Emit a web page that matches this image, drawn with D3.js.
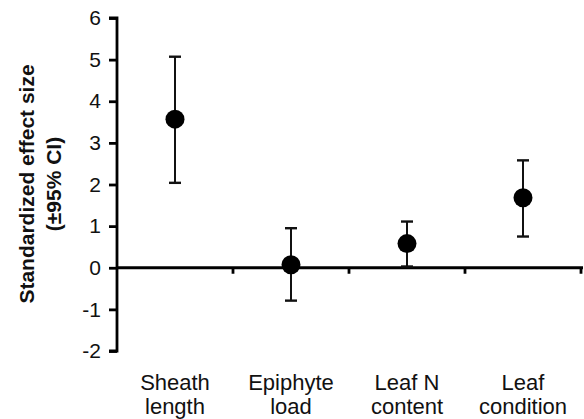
<!DOCTYPE html>
<html><head><meta charset="utf-8">
<script src="https://cdn.jsdelivr.net/npm/d3@7/dist/d3.min.js"></script>
<style>body{margin:0;background:#fff}svg{display:block;font-family:"Liberation Sans",Arial,sans-serif}</style>
</head><body><svg id="c" width="584" height="419"></svg>
<script>
const categories = [["Sheath","length"],["Epiphyte","load"],["Leaf N","content"],["Leaf","condition"]];
const means = [3.57, 0.07, 0.58, 1.68];
const upper = [5.07, 0.95, 1.11, 2.58];
const lower = [2.04, -0.79, 0.03, 0.75];
const yTicks = [-2,-1,0,1,2,3,4,5,6];

const svg = d3.select("#c");
const x = d3.scaleBand().domain(d3.range(categories.length)).range([117, 581]);
const y = d3.scaleLinear().domain([-2, 6]).range([351, 18]);

// y axis
const ya = svg.append("g").attr("transform","translate(117,0)")
  .call(d3.axisLeft(y).tickValues(yTicks).tickSize(8).tickPadding(8).tickFormat(d => String(d)));
ya.select(".domain").attr("d", `M-8,${y(-2)}H0V${y(6)}H-8`).attr("stroke","#000").attr("stroke-width",2.8);
ya.selectAll(".tick line").attr("stroke","#000").attr("stroke-width",2.8);
ya.selectAll(".tick text").attr("font-size",21).attr("fill","#111").attr("font-family","'Liberation Sans',Arial,sans-serif");

// x axis at zero
const xa = svg.append("g").attr("transform",`translate(0,${y(0)})`);
xa.append("line").attr("x1",116).attr("x2",583).attr("stroke","#000").attr("stroke-width",2.8);
const bounds = d3.range(1, categories.length+1).map(i => i < categories.length ? x(i) : x(i-1)+x.bandwidth());
xa.selectAll(".xt").data(bounds).join("line")
  .attr("x1",d=>d).attr("x2",d=>d).attr("y1",0).attr("y2",6)
  .attr("stroke","#000").attr("stroke-width",2.8);

// x labels
const lab = svg.append("g");
categories.forEach((c,i)=>{
  const cxp = x(i)+x.bandwidth()/2;
  const t = lab.append("text").attr("text-anchor","middle").attr("font-size",22).attr("fill","#111");
  t.append("tspan").attr("x", cxp).attr("y",390).text(c[0]);
  t.append("tspan").attr("x", cxp).attr("y",414).text(c[1]);
});

// y title
const yt = svg.append("text").attr("transform","translate(0,184) rotate(-90)")
  .attr("text-anchor","middle").attr("font-weight","bold").attr("font-size",21).attr("fill","#111");
yt.append("tspan").attr("x",0).attr("y",34).text("Standardized effect size");
yt.append("tspan").attr("x",0).attr("y",61).text("(±95% CI)");

// error bars and points
const g = svg.append("g");
const cx = i => x(i)+x.bandwidth()/2;
means.forEach((m,i)=>{
  g.append("line").attr("x1",cx(i)).attr("x2",cx(i)).attr("y1",y(lower[i])).attr("y2",y(upper[i]))
    .attr("stroke","#111").attr("stroke-width",2);
  [upper[i], lower[i]].forEach(v=>{
    g.append("line").attr("x1",cx(i)-6).attr("x2",cx(i)+6).attr("y1",y(v)).attr("y2",y(v))
      .attr("stroke","#111").attr("stroke-width",2.4);
  });
});
g.selectAll("circle").data(means).join("circle")
  .attr("cx",(d,i)=>cx(i)).attr("cy",d=>y(d)).attr("r",9.5).attr("fill","#000");
</script></body></html>
